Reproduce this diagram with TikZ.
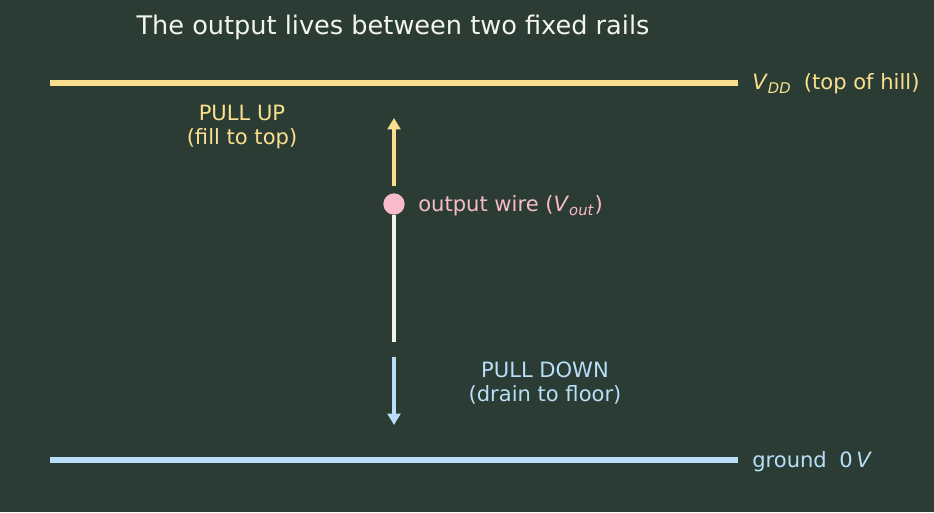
\documentclass[tikz,border=0pt]{standalone}
\usepackage{fontspec}
\setmainfont{DejaVu Sans}
\usetikzlibrary{arrows.meta,positioning}
\definecolor{bgdark}{HTML}{2B3C35}
\definecolor{railyel}{HTML}{FAE08E}
\definecolor{railblu}{HTML}{B8DEF8}
\definecolor{wirepnk}{HTML}{F8BBCB}
\definecolor{offwht}{HTML}{F4F4EE}
\tikzset{
  railline/.style={line width=4.2pt},
  pusharr/.style={-{Triangle[length=8.5pt, width=9.5pt]}, line width=2.5pt},
  lbltext/.style={inner sep=0pt, align=center, font=\fontsize{15.8}{18}\selectfont},
}

\begin{document}
\begin{tikzpicture}[
  x=0.75pt, y=-0.75pt,
  dotnode/.style={circle, fill=wirepnk, inner sep=0pt, minimum size=16pt},
]
  \fill[bgdark] (0,0) rectangle (934,512);
  \useasboundingbox (0,0) rectangle (934,512);

  % rails
  \coordinate (vddL) at (50,83);
  \coordinate (vddR) at (738,83);
  \coordinate (gndL) at (50,460);
  \coordinate (gndR) at (738,460);
  \draw[railline, railyel] (vddL) -- (vddR);
  \draw[railline, railblu] (gndL) -- (gndR);
  \node[lbltext, anchor=west, text=railyel] (vddlbl) at (752,84)
    {\textit{V}\textsubscript{\textit{DD}}\hspace{0.6em}(top of hill)};
  \node[lbltext, anchor=west, text=railblu] (gndlbl) at (752,462)
    {ground\hspace{0.6em}0\,\textit{V}};

  % output wire
  \node[dotnode] (out) at (394,204) {};
  \node[lbltext, anchor=west, text=wirepnk] (outlbl) at (418,206)
    {output wire (\textit{V}\textsubscript{\textit{out}})};
  \coordinate (upTip) at (394,118);
  \coordinate (wireEnd) at (394,342);
  \coordinate (dnStart) at (394,357);
  \coordinate (dnTip) at (394,425);
  \draw[pusharr, railyel, shorten <=5.5pt] (out) -- (upTip);
  \draw[line width=2.5pt, offwht] (out) -- (wireEnd);
  \draw[pusharr, railblu] (dnStart) -- (dnTip);

  % labels
  \node[lbltext, text=railyel] (uplbl) at (242,127) {PULL UP\\(fill to top)};
  \node[lbltext, text=railblu] (dnlbl) at (545,383) {PULL DOWN\\(drain to floor)};
  \node[inner sep=0pt, text=offwht, font=\fontsize{19.2}{23}\selectfont] (title) at (393,27)
    {The output lives between two fixed rails};
\end{tikzpicture}
\end{document}
